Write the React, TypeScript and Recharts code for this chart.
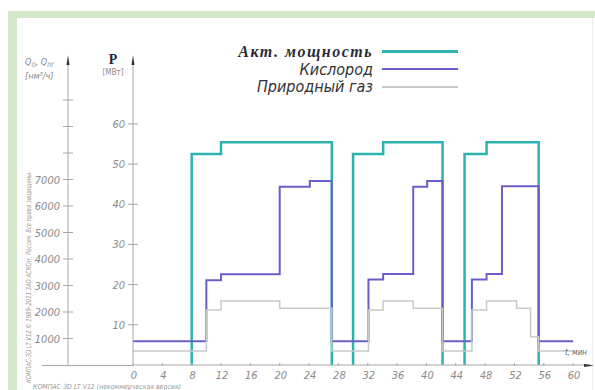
import React from "react"
import { LineChart, Line, XAxis, YAxis, Legend } from "recharts"

const timeTicks = [0, 4, 8, 12, 16, 20, 24, 28, 32, 36, 40, 44, 48, 52, 56, 60]
const powerTicks = [10, 20, 30, 40, 50, 60]
const flowTicks = [1000, 2000, 3000, 4000, 5000, 6000, 7000, 8000, 9000, 10000]
const flowLabelMax = 7000

// Активная мощность, МВт (null — разрыв между плавками)
const activePower = [
  { t: 8, v: 0 }, { t: 8, v: 52.5 }, { t: 12, v: 55.4 }, { t: 27.1, v: 55.4 }, { t: 27.1, v: 0 },
  { t: 28.5, v: null },
  { t: 30, v: 0 }, { t: 30, v: 52.5 }, { t: 34.1, v: 55.4 }, { t: 42.2, v: 55.4 }, { t: 42.2, v: 0 },
  { t: 43.5, v: null },
  { t: 45.2, v: 0 }, { t: 45.2, v: 52.5 }, { t: 48.2, v: 55.4 }, { t: 55.3, v: 55.4 }, { t: 55.3, v: 0 },
]

// Кислород, нм3/ч
const oxygen = [
  { t: 0, v: 900 }, { t: 10, v: 3200 }, { t: 12, v: 3420 }, { t: 20, v: 6730 }, { t: 24.1, v: 6940 }, { t: 27.1, v: 900 },
  { t: 32.1, v: 3230 }, { t: 34.1, v: 3430 }, { t: 38.2, v: 6730 }, { t: 40.1, v: 6940 }, { t: 42.2, v: 900 },
  { t: 46.2, v: 3230 }, { t: 48.2, v: 3430 }, { t: 50.3, v: 6750 }, { t: 55.3, v: 900 }, { t: 60, v: 900 },
]

// Природный газ, нм3/ч
const naturalGas = [
  { t: 0, v: 530 }, { t: 10, v: 2075 }, { t: 12, v: 2415 }, { t: 20, v: 2140 }, { t: 27.1, v: 530 },
  { t: 32.1, v: 2075 }, { t: 34.1, v: 2415 }, { t: 38.2, v: 2140 }, { t: 42.2, v: 530 },
  { t: 46.2, v: 2075 }, { t: 48.2, v: 2415 }, { t: 52.3, v: 2140 }, { t: 54.2, v: 1070 }, { t: 55.3, v: 530 }, { t: 60, v: 530 },
]

const AXIS = "#a8a8a8"
const LABEL = "#8a8a8a"
const NARROW = "'Liberation Sans Narrow', 'DejaVu Sans Condensed', 'Liberation Sans', sans-serif"

function TimeTick({ x, y, payload }: any) {
  return (
    <g>
      <line x1={x} x2={x} y1={y - 2} y2={y + 1} stroke={AXIS} />
      <text x={x + 1} y={y + 14} textAnchor="middle" fontSize={11} fontStyle="italic" fontFamily={NARROW} fill={LABEL}>
        {payload.value}
      </text>
    </g>
  )
}

function LeftTick({ x, y, payload, hideAbove }: any) {
  const show = hideAbove == null || payload.value <= hideAbove
  return (
    <g>
      <line x1={x - 5} x2={x + 5} y1={y} y2={y} stroke={AXIS} />
      {show && (
        <text x={x - 8} y={y + 4} textAnchor="end" fontSize={11} fontStyle="italic" fontFamily={NARROW} fill={LABEL}>
          {payload.value}
        </text>
      )}
    </g>
  )
}

function renderLegend(props: any) {
  const items = props.payload || []
  return (
    <div>
      {items.map((it: any, i: number) => (
        <div key={it.value} style={{ display: "flex", alignItems: "center", height: 17.5 }}>
          <div
            style={{
              width: 143,
              textAlign: "right",
              fontStyle: "italic",
              fontFamily: i === 0 ? "'Liberation Serif', serif" : NARROW,
              fontWeight: i === 0 ? "bold" : "normal",
              fontSize: 16,
              letterSpacing: i === 0 ? 1.5 : 0,
              color: i === 0 ? "#2a2a3a" : "#333",
              lineHeight: "17px",
              whiteSpace: "nowrap",
            }}
          >
            {it.value}
          </div>
          <div style={{ width: 9 }} />
          <div style={{ width: 76, height: 0, borderTop: `${i === 0 ? 3 : i === 1 ? 2.5 : 2}px solid ${it.color}` }} />
        </div>
      ))}
    </div>
  )
}

export default function App() {
  return (
    <div style={{ position: "absolute", left: 0, top: 0, width: 595, height: 390, background: "#fff", overflow: "hidden" }}>
      <LineChart width={595} height={390} margin={{ top: 62, right: 5, bottom: 5, left: 8 }}>
        <XAxis
          dataKey="t"
          type="number"
          domain={[0, 62.3]}
          ticks={timeTicks}
          interval={0}
          height={20}
          stroke={AXIS}
          tickLine={false}
          tickSize={0}
          tickMargin={0}
          tick={<TimeTick />}
        />
        <YAxis
          yAxisId="p"
          domain={[0, 75.4]}
          ticks={powerTicks}
          interval={0}
          width={65}
          stroke={AXIS}
          tickLine={false}
          tickSize={0}
          tickMargin={0}
          tick={<LeftTick />}
        />
        <YAxis
          yAxisId="q"
          domain={[0, 11434]}
          ticks={flowTicks}
          interval={0}
          width={60}
          stroke={AXIS}
          tickLine={false}
          tickSize={0}
          tickMargin={0}
          tick={<LeftTick hideAbove={flowLabelMax} />}
        />
        <Line yAxisId="p" data={activePower} dataKey="v" name="Акт. мощность" type="stepAfter" stroke="#2db3ae" strokeWidth={2.5} dot={false} isAnimationActive={false} />
        <Line yAxisId="q" data={oxygen} dataKey="v" name="Кислород" type="stepAfter" stroke="#6a5fc8" strokeWidth={2} dot={false} isAnimationActive={false} />
        <Line yAxisId="q" data={naturalGas} dataKey="v" name="Природный газ" type="stepAfter" stroke="#c9c9c9" strokeWidth={1.5} dot={false} isAnimationActive={false} />
        <Legend
          layout="vertical"
          align="center"
          verticalAlign="middle"
          wrapperStyle={{ left: 230, top: 43, width: 240 }}
          content={renderLegend}
        />
      </LineChart>

      <svg width={595} height={390} style={{ position: "absolute", left: 0, top: 0, pointerEvents: "none" }}>
        {/* рамка */}
        <rect x={8} y={11} width={587} height={7} fill="#d4e9c9" />
        <rect x={8} y={11} width={9} height={379} fill="#d4e9c9" />
        <line x1={592.5} x2={592.5} y1={18} y2={390} stroke="#eee" />
        {/* продолжение оси времени влево */}
        <line x1={42} x2={133} y1={365.5} y2={365.5} stroke={AXIS} />
        {/* стрелки осей */}
        <path d="M66.5 65 L68 55 L69.5 65 Z" fill="#333" />
        <path d="M131.5 65 L133 55 L134.5 65 Z" fill="#333" />
        <path d="M584 364 L594 365.5 L584 367 Z" fill="#333" />
        <text x={565} y={355} fontSize={9.5} fontStyle="italic" fontFamily={NARROW} fill="#666" textLength={22} lengthAdjust="spacingAndGlyphs">t, мин</text>
        {/* подписи осей */}
        <text x={113} y={64} textAnchor="middle" fontSize={14} fontWeight="bold" fontFamily="'Liberation Serif', serif" fill="#1e2240">P</text>
        <text x={113} y={75} textAnchor="middle" fontSize={8} fontFamily={NARROW} fill="#888">[МВт]</text>
        <text x={25} y={65} fontSize={9} fontStyle="italic" fontFamily={NARROW} fill="#888">
          Q<tspan fontSize={6} dy={2}>O</tspan><tspan dy={-2}>, Q</tspan><tspan fontSize={6} dy={2}>ПГ</tspan>
        </text>
        <text x={25} y={79} fontSize={9} fontStyle="italic" fontFamily={NARROW} fill="#888">[нм³/ч]</text>
        {/* служебные надписи КОМПАС */}
        <text x={0} y={0} transform="translate(31 383) rotate(-90)" fontSize={7} fontStyle="italic" fontFamily={NARROW} fill="#999" textLength={212} lengthAdjust="spacingAndGlyphs">
          КОМПАС-3D LT V12 © 1989–2011 ЗАО АСКОН, Россия. Все права защищены.
        </text>
        <text x={33} y={389} fontSize={7} fontStyle="italic" fontFamily={NARROW} fill="#999" textLength={148} lengthAdjust="spacingAndGlyphs">
          КОМПАС-3D LT V12 (некоммерческая версия)
        </text>
      </svg>
    </div>
  )
}
